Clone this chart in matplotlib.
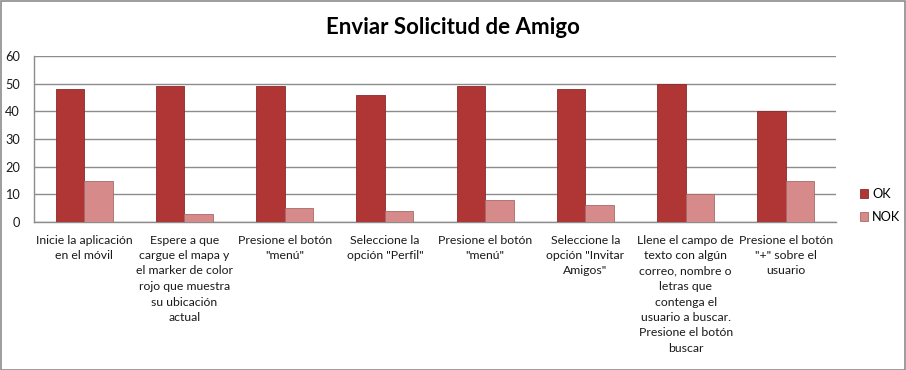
import matplotlib
matplotlib.use("Agg")
import matplotlib.pyplot as plt
from matplotlib.patches import Rectangle
import numpy as np

categories = [
    "Inicie la aplicación\nen el móvil",
    "Espere a que\ncargue el mapa y\nel marker de color\nrojo que muestra\nsu ubicación\nactual",
    "Presione el botón\n\"menú\"",
    "Seleccione la\nopción \"Perfil\"",
    "Presione el botón\n\"menú\"",
    "Seleccione la\nopción \"Invitar\nAmigos\"",
    "Llene el campo de\ntexto con algún\ncorreo, nombre o\nletras que\ncontenga el\nusuario a buscar.\nPresione el botón\nbuscar",
    "Presione el botón\n\"+\" sobre el\nusuario",
]
ok_values = [48, 49, 49, 46, 49, 48, 50, 40]
nok_values = [15, 3, 5, 4, 8, 6, 10, 15]
y_ticks = [0, 10, 20, 30, 40, 50, 60]
title = "Enviar Solicitud de Amigo"

plt.rcParams['font.family'] = ['Lato', 'DejaVu Sans']

fig = plt.figure(figsize=(9.06, 3.70), dpi=100)
ax = fig.add_axes([34/906, 1 - 222/370, 802/906, (222-56)/370])

x = np.arange(len(categories))
w = 0.285
ax.bar(x - w/2, ok_values, w, color="#B03636", edgecolor="#8a2a2a", linewidth=0.6, label="OK", zorder=3)
ax.bar(x + w/2, nok_values, w, color="#D68A8A", edgecolor="#a86868", linewidth=0.6, label="NOK", zorder=3)

ax.set_xlim(-0.5, len(categories) - 0.5)
ax.set_ylim(0, 60)
ax.set_yticks(y_ticks)
ax.set_xticks(x)
ax.set_xticklabels(categories, fontsize=8.8, linespacing=1.5, color="#1a1a1a")
ax.tick_params(axis='y', length=0, pad=10, labelsize=9.2, labelcolor="#1a1a1a")
ax.tick_params(axis='x', length=0, pad=9)
ax.grid(axis='y', color="#8c8c8c", linewidth=1, zorder=0)
for s in ['top', 'right']:
    ax.spines[s].set_visible(False)
for s in ['left', 'bottom']:
    ax.spines[s].set_color("#8c8c8c")
    ax.spines[s].set_linewidth(1)

ax.legend(loc='center left', bbox_to_anchor=(1.015, 0.10), frameon=False,
          fontsize=9.2, handlelength=0.7, handleheight=0.7, handletextpad=0.3,
          labelspacing=0.9)

fig.text(0.5, 1 - 27/370, title, ha='center', va='center', fontsize=16, fontweight='bold')

fig.patches.append(Rectangle((0.5/906, 0.5/370), 1 - 1.5/906, 1 - 1.5/370, transform=fig.transFigure,
                             fill=False, edgecolor="#8c8c8c", linewidth=1.2))

fig.savefig("out.png", dpi=100)
